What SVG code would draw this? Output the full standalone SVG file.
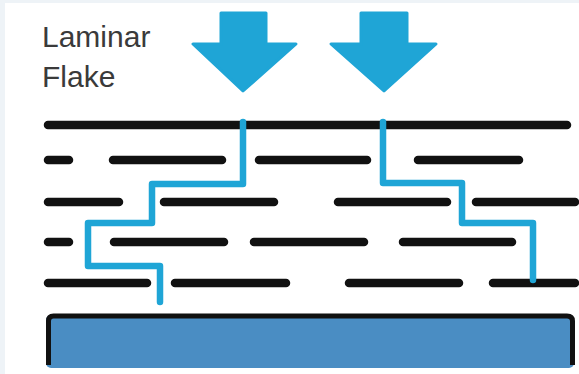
<svg xmlns="http://www.w3.org/2000/svg" width="579" height="374" viewBox="0 0 579 374">
  <style>
    .flake { stroke: #111; stroke-width: 8.5; stroke-linecap: round; fill: none; }
    .path { stroke: #1fa5d6; stroke-width: 6.5; stroke-linecap: round; stroke-linejoin: round; fill: none; }
    .arrow { fill: #1fa5d6; stroke: #1fa5d6; stroke-width: 3; stroke-linejoin: round; }
    .label { font-family: "Liberation Sans", Arial, sans-serif; font-size: 30px; fill: #3a3a3a; }
  </style>
  <!-- page background with a faint frame -->
  <rect x="0" y="0" width="579" height="374" fill="#eef3f7"/>
  <rect x="5" y="3" width="574" height="371" fill="#ffffff"/>

  <g id="label">
    <text class="label" x="42" y="47">Laminar</text>
    <text class="label" x="42" y="87">Flake</text>
  </g>

  <g id="arrow-left">
    <polygon class="arrow" points="221,13 266,13 266,44 296,44 243,91 193,44 221,44"/>
  </g>
  <g id="arrow-right">
    <polygon class="arrow" points="361,13 407,13 407,44 436,44 384,91 331,44 361,44"/>
  </g>

  <g id="flakes">
    <!-- row 1 -->
    <line class="flake" x1="48" y1="125" x2="567" y2="125"/>
    <!-- row 2 -->
    <line class="flake" x1="48" y1="160" x2="69" y2="160"/>
    <line class="flake" x1="113" y1="160" x2="222" y2="160"/>
    <line class="flake" x1="259" y1="160" x2="367" y2="160"/>
    <line class="flake" x1="418" y1="160" x2="519" y2="160"/>
    <!-- row 3 -->
    <line class="flake" x1="48" y1="202" x2="119" y2="202"/>
    <line class="flake" x1="164" y1="202" x2="274" y2="202"/>
    <line class="flake" x1="338" y1="202" x2="447" y2="202"/>
    <line class="flake" x1="476" y1="202" x2="575" y2="202"/>
    <!-- row 4 -->
    <line class="flake" x1="48" y1="242" x2="69" y2="242"/>
    <line class="flake" x1="114" y1="242" x2="224" y2="242"/>
    <line class="flake" x1="254" y1="242" x2="364" y2="242"/>
    <line class="flake" x1="403" y1="242" x2="512" y2="242"/>
    <!-- row 5 -->
    <line class="flake" x1="48" y1="283" x2="147" y2="283"/>
    <line class="flake" x1="175" y1="283" x2="286" y2="283"/>
    <line class="flake" x1="349" y1="283" x2="459" y2="283"/>
    <line class="flake" x1="493" y1="283" x2="575" y2="283"/>
  </g>

  <g id="connectors">
    <path class="path" d="M243,122 V184 H152 V223 H88 V266 H160 V302"/>
    <path class="path" d="M383,122 V183 H462 V223 H533 V280"/>
  </g>

  <g id="substrate">
    <rect x="46" y="315" width="528" height="53" rx="5" fill="#4a8dc3"/>
    <path d="M48.5,365 V321 Q48.5,316 53.5,316 H567 Q572.5,316 572.5,321 V365" fill="none" stroke="#111" stroke-width="5"/>
  </g>
</svg>
